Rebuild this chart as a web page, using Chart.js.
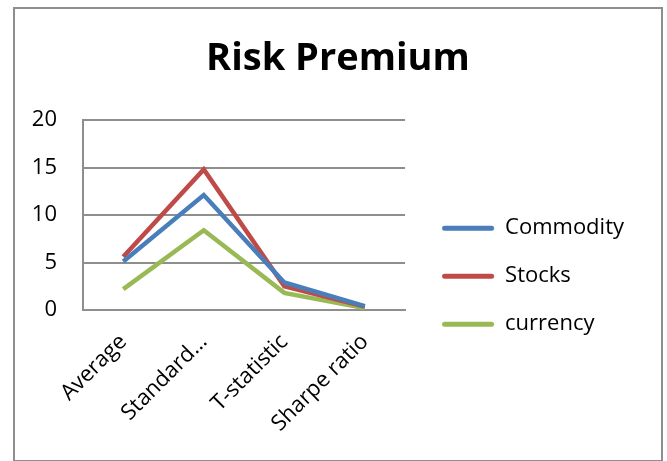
<!DOCTYPE html>
<html>
<head>
<meta charset="utf-8">
<script src="https://cdn.jsdelivr.net/npm/chart.js@4/dist/chart.umd.min.js"></script>
<style>
  html, body { margin: 0; padding: 0; background: #fff; }
  #frame {
    position: absolute; left: 13px; top: 7px; width: 650px; height: 455px;
    box-sizing: border-box; border: 2px solid #8e8e8e;
  }
  #risk-chart { position: absolute; left: 0; top: 0; }
</style>
</head>
<body>
<div id="frame"></div>
<canvas id="risk-chart" width="667" height="461"></canvas>
<script>
const categories = ['Average', 'Standard\u2026', 'T-statistic', 'Sharpe ratio']
const commodity = [5.1, 12.1, 2.9, 0.4]
const stocks = [5.6, 14.8, 2.5, 0.35]
const currency = [2.2, 8.4, 1.8, 0.2]
const yTicks = [0, 5, 10, 15, 20]

const ctx = document.getElementById('risk-chart')
const font = { family: '"Open Sans"', size: 22 }
const gridColor = '#8e8e8e'
const padL = 30
const padR = 21

function series(label, data, color) {
    return {
        label: label,
        data: data,
        borderColor: color,
        backgroundColor: color,
        borderWidth: 4.5,
        pointRadius: 0,
        tension: 0,
        fill: false
    }
}

// empty axis used only to reserve horizontal space
function spacer(width, weight) {
    return {
        type: 'linear',
        position: 'right',
        weight: weight,
        grid: { display: false, drawTicks: false },
        border: { display: false },
        ticks: { display: false },
        afterFit: s => { s.width = width }
    }
}

new Chart(ctx, {
    type: 'line',
    data: {
        labels: categories,
        datasets: [
            series('Commodity', commodity, '#4A7EBB'),
            series('Stocks', stocks, '#BE4B48'),
            series('currency', currency, '#98B954')
        ]
    },
    options: {
        responsive: false,
        animation: false,
        layout: { padding: { left: padL, right: padR, top: 0, bottom: 0 } },
        scales: {
            x: {
                type: 'category',
                offset: true,
                grid: { display: false, drawTicks: false },
                border: { display: true, color: gridColor, width: 2 },
                ticks: { font: font, color: '#000', minRotation: 45, maxRotation: 45, autoSkip: false, padding: 19 },
                afterFit: s => { s.height = 151 }
            },
            y: {
                min: 0,
                max: 20,
                afterBuildTicks: s => { s.ticks = yTicks.map(v => ({ value: v })) },
                grid: { color: gridColor, lineWidth: 2, drawTicks: false },
                border: { display: true, color: gridColor, width: 2 },
                ticks: { font: font, color: '#000', padding: 26 },
                afterFit: s => { s.width = 83 - padL }
            },
            gap: spacer(11, 0),
            edge: spacer(12, 2000)
        },
        plugins: {
            title: {
                display: true,
                text: 'Risk Premium',
                color: '#000',
                font: { family: '"Open Sans"', size: 38, weight: 'bold' },
                padding: { top: 36, bottom: 38.4 }
            },
            legend: {
                position: 'right',
                maxWidth: 320,
                title: { display: true, text: '', font: { size: 12 }, padding: { top: 0, bottom: 77 } },
                labels: {
                    font: font,
                    color: '#000',
                    boxWidth: 52,
                    boxHeight: 5,
                    padding: 26,
                    useBorderRadius: true,
                    borderRadius: 2.5,
                    generateLabels: chart =>
                        Chart.defaults.plugins.legend.labels.generateLabels(chart).map(item => ({ ...item, lineWidth: 0 }))
                }
            },
            tooltip: { enabled: false }
        }
    }
})
</script>
</body>
</html>
